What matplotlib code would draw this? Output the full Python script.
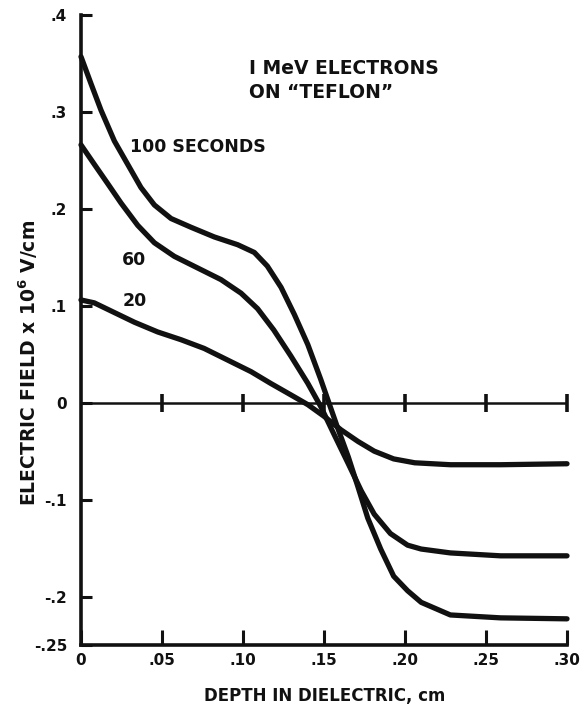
import matplotlib
matplotlib.use("Agg")
import matplotlib.pyplot as plt

# Electric field profiles in irradiated Teflon (1 MeV electrons)
depth_100 = [0.0, 0.0062, 0.0123, 0.0206, 0.0288, 0.037, 0.0453, 0.0556, 0.0679,
             0.0823, 0.0967, 0.107, 0.115, 0.1235, 0.1317, 0.140, 0.148, 0.153,
             0.158, 0.165, 0.171, 0.177, 0.185, 0.193, 0.2016, 0.210, 0.228,
             0.259, 0.30]
field_100 = [0.357, 0.329, 0.302, 0.270, 0.246, 0.222, 0.204, 0.190, 0.181,
             0.171, 0.163, 0.155, 0.141, 0.119, 0.091, 0.060, 0.024, 0.0,
             -0.024, -0.056, -0.087, -0.119, -0.151, -0.179, -0.194, -0.206, -0.219,
             -0.222, -0.223]

depth_60 = [0.0, 0.0082, 0.0165, 0.0247, 0.035, 0.0453, 0.0576, 0.072, 0.0864,
            0.0988, 0.109, 0.119, 0.1296, 0.140, 0.148, 0.156, 0.165, 0.173,
            0.181, 0.191, 0.2016, 0.210, 0.228, 0.259, 0.30]
field_60 = [0.266, 0.246, 0.226, 0.206, 0.183, 0.165, 0.151, 0.139, 0.127,
            0.113, 0.097, 0.075, 0.048, 0.020, -0.004, -0.032, -0.063, -0.091,
            -0.115, -0.135, -0.147, -0.151, -0.155, -0.158, -0.158]

depth_20 = [0.0, 0.0082, 0.0206, 0.033, 0.0473, 0.0617, 0.076, 0.0905, 0.105,
            0.117, 0.1296, 0.140, 0.150, 0.1605, 0.171, 0.181, 0.193, 0.206,
            0.228, 0.259, 0.30]
field_20 = [0.106, 0.103, 0.093, 0.083, 0.073, 0.065, 0.056, 0.044, 0.032,
            0.020, 0.008, -0.002, -0.014, -0.028, -0.040, -0.050, -0.058, -0.062,
            -0.064, -0.064, -0.063]

x_ticks = [0.0, 0.05, 0.10, 0.15, 0.20, 0.25, 0.30]
x_tick_labels = ["0", ".05", ".10", ".15", ".20", ".25", ".30"]
y_ticks = [-0.25, -0.2, -0.1, 0.0, 0.1, 0.2, 0.3, 0.4]
y_tick_labels = ["-.25", "-.2", "-.1", "0", ".1", ".2", ".3", ".4"]
zero_marks = [0.05, 0.10, 0.15, 0.20, 0.25, 0.30]

INK = "#111111"
plt.rcParams["font.family"] = ["DejaVu Sans"]
plt.rcParams["font.weight"] = "bold"

fig = plt.figure(figsize=(5.82, 7.06), dpi=100)
ax = fig.add_axes([81 / 582, 61 / 706, 486 / 582, 630 / 706])
ax.set_xlim(0, 0.30)
ax.set_ylim(-0.25, 0.40)

for side in ("top", "right"):
    ax.spines[side].set_visible(False)
for side in ("left", "bottom"):
    ax.spines[side].set_linewidth(2.6)
    ax.spines[side].set_color(INK)
    ax.spines[side].set_capstyle("projecting")

ax.set_xticks(x_ticks)
ax.set_xticklabels(x_tick_labels)
ax.set_yticks(y_ticks)
ax.set_yticklabels(y_tick_labels)
ax.tick_params(axis="x", direction="in", length=11, width=2.2, color=INK,
               labelsize=11, pad=6, labelcolor=INK)
ax.tick_params(axis="y", direction="in", length=8, width=2.2, color=INK,
               labelsize=11, pad=10, labelcolor=INK)

# zero reference line with crossing tick marks
ax.axhline(0, color=INK, lw=1.8, zorder=2)
ax.plot(zero_marks, [0] * len(zero_marks), ls="none", marker="|", ms=13,
        mew=2.6, color=INK, zorder=2, clip_on=False)

for xs, ys in ((depth_100, field_100), (depth_60, field_60), (depth_20, field_20)):
    ax.plot(xs, ys, color=INK, lw=3.8, solid_joinstyle="round",
            solid_capstyle="round", zorder=3, clip_on=False)

ax.text(0.104, 0.345, "I MeV ELECTRONS", fontsize=13.5, fontweight="bold",
        va="center", ha="left", color=INK)
ax.text(0.104, 0.320, "ON \u201cTEFLON\u201d", fontsize=13.5, fontweight="bold",
        va="center", ha="left", color=INK)
ax.text(0.030, 0.264, "100 SECONDS", fontsize=12.5, fontweight="bold",
        va="center", ha="left", color=INK)
ax.text(0.025, 0.147, "60", fontsize=12.5, fontweight="bold",
        va="center", ha="left", color=INK)
ax.text(0.026, 0.105, "20", fontsize=12.5, fontweight="bold",
        va="center", ha="left", color=INK)

fig.text(325 / 582, 1 - 696 / 706, "DEPTH IN DIELECTRIC, cm", fontsize=12,
         fontweight="bold", ha="center", va="center", color=INK)
fig.text(28 / 582, 1 - 363 / 706, r"ELECTRIC FIELD x 10$^{\mathbf{6}}$ V/cm",
         fontsize=13.5, fontweight="bold", rotation=90, ha="center", va="center",
         color=INK)

fig.savefig("out.png", dpi=100, facecolor="white")
